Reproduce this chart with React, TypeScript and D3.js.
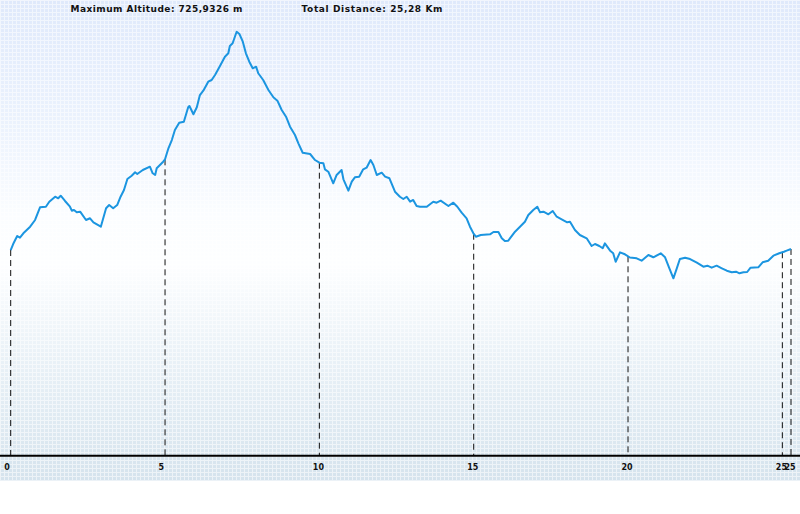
import React from "react";
import * as d3 from "d3";

const distances = [
  0.0, 0.08, 0.21, 0.3, 0.41, 0.63, 0.79, 0.95, 1.14, 1.25, 1.44, 1.54, 1.62, 1.76, 1.92, 1.98, 2.05, 2.14, 2.25, 2.44,
  2.57, 2.68, 2.92, 3.09, 3.19, 3.32, 3.45, 3.56, 3.67, 3.78, 3.92, 4.03, 4.1, 4.28, 4.51, 4.6, 4.68, 4.73, 4.94, 5.0,
  5.11, 5.22, 5.32, 5.46, 5.61, 5.75, 5.79, 5.92, 6.03, 6.13, 6.24, 6.4, 6.51, 6.62, 6.78, 6.94, 7.05, 7.1, 7.19, 7.32,
  7.41, 7.52, 7.62, 7.73, 7.84, 7.95, 8.02, 8.18, 8.35, 8.51, 8.64, 8.78, 8.92, 9.05, 9.21, 9.32, 9.46, 9.7, 9.86, 10.0,
  10.13, 10.18, 10.29, 10.45, 10.56, 10.72, 10.78, 10.94, 11.05, 11.15, 11.29, 11.42, 11.53, 11.66, 11.75, 11.86, 12.02,
  12.13, 12.27, 12.45, 12.61, 12.72, 12.83, 12.94, 13.04, 13.15, 13.26, 13.48, 13.69, 13.8, 13.93, 14.18, 14.34, 14.47,
  14.61, 14.77, 14.88, 14.99, 15.07, 15.23, 15.53, 15.64, 15.8, 15.91, 16.01, 16.12, 16.34, 16.5, 16.66, 16.77, 16.93,
  17.06, 17.15, 17.26, 17.42, 17.56, 17.69, 17.85, 18.03, 18.12, 18.28, 18.44, 18.66, 18.82, 18.93, 19.07, 19.18, 19.25,
  19.42, 19.52, 19.6, 19.74, 19.9, 20.06, 20.28, 20.44, 20.66, 20.82, 21.06, 21.2, 21.34, 21.47, 21.58, 21.68, 21.85,
  22.01, 22.23, 22.44, 22.57, 22.71, 22.87, 23.04, 23.2, 23.36, 23.5, 23.61, 23.74, 23.86, 23.97, 24.22, 24.36, 24.54,
  24.71, 24.9, 25.05, 25.14, 25.28,
];

const altitudes = [
  352.4, 362.7, 376.4, 373.5, 381.0, 392.3, 403.8, 425.5, 426.5, 435.1, 443.6, 440.9, 445.3, 436.3, 426.5, 419.7, 420.9,
  416.9, 418.0, 403.8, 406.7, 399.8, 392.3, 423.8, 429.4, 423.8, 429.4, 443.6, 455.1, 473.9, 479.6, 485.4, 482.5, 489.3,
  495.0, 483.7, 480.8, 492.2, 503.5, 507.6, 526.4, 540.6, 557.8, 570.2, 571.9, 596.6, 598.8, 584.6, 596.6, 617.6, 625.0,
  640.4, 643.3, 651.9, 667.3, 683.2, 689.0, 701.5, 706.1, 725.9, 722.0, 708.8, 689.0, 674.6, 663.3, 666.1, 654.8, 643.3,
  626.2, 613.7, 607.9, 592.0, 580.5, 563.4, 549.2, 535.0, 518.9, 516.7, 506.4, 501.8, 500.8, 490.5, 486.4, 466.6, 480.8,
  489.3, 473.4, 453.9, 469.3, 476.8, 477.9, 490.5, 493.3, 506.4, 497.9, 480.8, 484.7, 477.9, 475.1, 452.2, 443.6, 439.7,
  443.6, 435.1, 438.0, 427.7, 426.5, 426.5, 435.1, 433.4, 436.8, 427.7, 433.4, 426.5, 416.3, 406.7, 392.3, 381.0, 375.2,
  378.1, 379.3, 383.2, 383.2, 372.5, 367.8, 368.4, 383.8, 392.3, 400.9, 412.3, 420.9, 426.5, 416.9, 418.0, 413.5, 419.2,
  409.4, 405.0, 399.8, 400.9, 386.7, 378.1, 372.5, 359.3, 362.7, 359.3, 355.4, 363.9, 351.3, 346.8, 332.4, 348.5, 345.1,
  339.6, 338.2, 334.1, 343.9, 340.0, 346.8, 340.0, 321.1, 304.0, 321.1, 337.0, 339.3, 337.0, 330.7, 323.9, 325.6, 322.2,
  325.6, 321.1, 317.0, 314.3, 315.3, 312.6, 314.3, 314.8, 322.2, 322.8, 331.4, 334.1, 342.7, 346.8, 349.5, 351.3, 354.2,
];

const tickValues = [0, 5, 10, 15, 20, 25, 25.28];
const tickLabels = ["0", "5", "10", "15", "20", "25", "25"];
const maxAltitude = 725.9326;
const totalDistance = 25.28;
const titleMax = "Maximum Altitude: 725,9326 m";
const titleDist = "Total Distance: 25,28 Km";

const W = 800;
const H = 514;

export default function App() {
  const x = d3.scaleLinear().domain([0, totalDistance]).range([10.7, 791]);
  const y = d3.scaleLinear().domain([0, maxAltitude]).range([456, 31.7]);
  const pts = distances.map((d, i) => [d, altitudes[i]] as [number, number]);
  const line = d3
    .line<[number, number]>()
    .x((p) => x(p[0]))
    .y((p) => y(p[1]));
  const bis = d3.bisector((p: [number, number]) => p[0]).left;
  const altAt = (d: number) => {
    const i = bis(pts, d);
    if (i <= 0) return pts[0][1];
    if (i >= pts.length) return pts[pts.length - 1][1];
    const a = pts[i - 1];
    const b = pts[i];
    const t = (d - a[0]) / (b[0] - a[0] || 1);
    return a[1] + t * (b[1] - a[1]);
  };
  const axisY = 455.7;
  const font = "'DejaVu Sans', Verdana, sans-serif";

  return (
    <svg
      width={W}
      height={H}
      style={{ position: "absolute", left: 0, top: 0, display: "block" }}
    >
      <defs>
        <linearGradient id="bg" x1="0" y1="0" x2="0" y2="1">
          <stop offset="0" stopColor="#dfe9fb" />
          <stop offset="0.25" stopColor="#ebf2fd" />
          <stop offset="0.45" stopColor="#fbfdff" />
          <stop offset="0.55" stopColor="#fdfeff" />
          <stop offset="0.75" stopColor="#e9f1f7" />
          <stop offset="1" stopColor="#d5e3ed" />
        </linearGradient>
        <pattern id="grid" width="4" height="4" patternUnits="userSpaceOnUse">
          <path d="M0 0.5H4M0.5 0V4" stroke="#ffffff" strokeWidth="1" opacity="0.55" />
        </pattern>
      </defs>
      <rect x={0} y={0} width={W} height={481} fill="url(#bg)" />
      <rect x={0} y={0} width={W} height={481} fill="url(#grid)" />

      <text x={70.5} y={12} fontFamily={font} fontWeight="bold" fontSize={9} fill="#111" textLength={172} lengthAdjust="spacing">
        {titleMax}
      </text>
      <text x={301.5} y={12} fontFamily={font} fontWeight="bold" fontSize={9} fill="#111" textLength={141} lengthAdjust="spacing">
        {titleDist}
      </text>

      {tickValues.map((t, i) => (
        <line
          key={"d" + i}
          x1={x(t)}
          x2={x(t)}
          y1={y(altAt(t))}
          y2={axisY}
          stroke="#111"
          strokeWidth={1}
          strokeDasharray="6,4"
        />
      ))}

      <path d={line(pts) || ""} fill="none" stroke="#1b95e0" strokeWidth={2} strokeLinejoin="round" />

      <line x1={0} x2={W} y1={axisY} y2={axisY} stroke="#000" strokeWidth={2} />
      {tickValues.map((t, i) => (
        <text
          key={"t" + i}
          x={x(t) - 6.5}
          y={469.5}
          fontFamily={font}
          fontWeight="bold"
          fontSize={8}
          fill="#111"
        >
          {tickLabels[i]}
        </text>
      ))}
    </svg>
  );
}
